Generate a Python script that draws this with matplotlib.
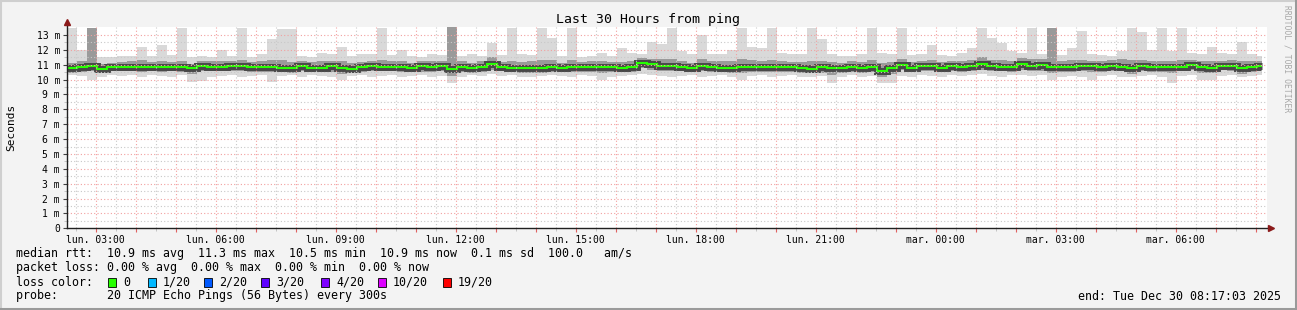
import numpy as np
import matplotlib.pyplot as plt
from matplotlib.lines import Line2D
from matplotlib.patches import Rectangle

plt.rcParams['font.family'] = ['DejaVu Sans Mono', 'DejaVu Sans']

# 15-minute bins, hours since Mon 02:17:03 (30 h window)
hours = np.arange(120) * 0.25
data_end = 29.875

# median rtt (ms)
med = [10.75, 10.83, 10.95, 10.72, 10.83, 10.85, 10.88, 10.88, 10.86, 10.82,
       10.86, 10.83, 10.78, 10.92, 10.85, 10.88, 10.94, 10.90, 10.83, 10.83,
       10.84, 10.80, 10.76, 10.90, 10.78, 10.80, 10.92, 10.76, 10.72, 10.83,
       10.95, 10.88, 10.87, 10.84, 10.78, 10.94, 10.84, 10.90, 10.72, 10.84,
       10.75, 10.88, 11.05, 10.85, 10.78, 10.77, 10.77, 10.77, 10.85, 10.80,
       10.84, 10.86, 10.82, 10.82, 10.84, 10.78, 10.88, 11.15, 11.02, 10.95,
       10.93, 10.87, 10.80, 10.92, 10.84, 10.80, 10.78, 10.82, 10.84, 10.84,
       10.86, 10.84, 10.82, 10.80, 10.74, 10.82, 10.76, 10.78, 10.84, 10.76,
       10.82, 10.55, 10.80, 10.97, 10.78, 10.90, 10.90, 10.80, 10.92, 10.84,
       10.95, 11.06, 10.90, 10.88, 10.85, 11.08, 10.92, 10.96, 10.88, 10.82,
       10.84, 10.95, 10.90, 10.84, 10.90, 10.88, 10.75, 10.90, 10.85, 10.83,
       10.84, 10.86, 10.98, 10.85, 10.80, 10.93, 10.95, 10.78, 10.84, 10.92]

# top of the smoke (slowest pings)
hi = [13.5, 12.0, 13.5, 11.5, 11.55, 11.6, 11.6, 12.2, 11.6, 12.3,
      11.65, 13.5, 11.55, 11.6, 11.5, 12.0, 11.6, 13.5, 11.55, 11.7,
      12.7, 13.4, 13.4, 11.6, 11.55, 11.8, 11.7, 12.2, 11.6, 11.7,
      11.75, 13.5, 11.65, 12.0, 11.6, 11.55, 11.7, 11.65, 13.5, 11.6,
      11.7, 11.6, 12.45, 11.65, 13.5, 11.7, 11.65, 13.5, 12.8, 11.6,
      13.5, 11.55, 11.6, 11.8, 11.6, 12.1, 11.8, 11.7, 12.55, 12.4,
      13.5, 11.9, 11.7, 13.0, 11.75, 11.7, 12.0, 13.5, 12.2, 12.1,
      13.5, 11.8, 11.7, 11.75, 13.5, 12.7, 11.7, 11.6, 11.6, 11.7,
      13.5, 11.8, 11.7, 13.5, 11.65, 11.7, 12.35, 11.65, 11.6, 11.8,
      12.1, 13.5, 12.8, 12.45, 11.9, 11.8, 13.5, 11.7, 13.5, 11.65,
      12.1, 13.3, 11.75, 11.65, 11.6, 11.9, 13.5, 13.2, 12.0, 13.5,
      11.9, 13.5, 11.8, 11.7, 12.2, 11.8, 11.7, 12.55, 11.75, 11.6]

# bottom of the smoke (fastest pings)
lo = [10.3, 10.25, 10.0, 10.2, 10.3, 10.25, 10.3, 10.15, 10.3, 10.25,
      10.2, 10.3, 9.85, 9.9, 10.2, 10.25, 10.3, 10.2, 10.25, 10.3,
      9.85, 10.25, 10.3, 10.2, 10.3, 10.25, 10.2, 10.0, 10.25, 10.3,
      10.15, 10.25, 10.3, 10.2, 10.25, 10.3, 10.2, 10.25, 9.8, 10.2,
      10.3, 10.25, 10.35, 10.25, 10.3, 10.2, 10.15, 10.25, 10.3, 10.25,
      10.2, 10.3, 10.25, 10.0, 10.2, 10.25, 10.3, 10.35, 10.3, 10.25,
      10.15, 10.25, 10.3, 10.2, 10.25, 10.3, 10.2, 10.0, 10.25, 10.3,
      10.2, 10.25, 10.3, 10.2, 10.15, 10.25, 9.8, 10.2, 10.3, 10.15,
      10.25, 9.75, 9.75, 10.25, 10.2, 10.3, 10.25, 10.2, 10.3, 10.25,
      10.3, 10.35, 10.25, 10.2, 10.3, 10.3, 10.25, 10.3, 10.0, 10.2,
      10.25, 10.2, 10.0, 10.25, 10.3, 10.2, 10.15, 10.25, 10.3, 10.2,
      9.8, 10.25, 10.3, 10.0, 10.0, 10.25, 10.3, 10.2, 10.25, 10.3]

# spread of the denser middle pings around the median
q_up = [0.35, 0.40, 2.55, 0.35, 0.30, 0.35, 0.40, 0.45, 0.35, 0.40,
        0.35, 0.45, 0.30, 0.35, 0.40, 0.35, 0.30, 0.45, 0.35, 0.40,
        0.45, 0.50, 0.40, 0.35, 0.40, 0.45, 0.35, 0.50, 0.40, 0.35,
        0.30, 0.45, 0.35, 0.40, 0.35, 0.30, 0.40, 0.35, 2.80, 0.40,
        0.40, 0.35, 0.45, 0.35, 0.50, 0.40, 0.45, 0.55, 0.45, 0.35,
        0.45, 0.35, 0.40, 0.45, 0.35, 0.40, 0.35, 0.30, 0.40, 0.45,
        0.45, 0.40, 0.35, 0.50, 0.40, 0.45, 0.50, 0.55, 0.45, 0.40,
        0.45, 0.40, 0.35, 0.40, 0.50, 0.45, 0.40, 0.35, 0.40, 0.45,
        0.50, 0.55, 0.40, 0.45, 0.40, 0.35, 0.45, 0.40, 0.35, 0.40,
        0.40, 0.45, 0.40, 0.45, 0.40, 0.35, 0.45, 0.40, 2.60, 0.45,
        0.45, 0.40, 0.35, 0.40, 0.45, 0.50, 0.55, 0.45, 0.40, 0.45,
        0.40, 0.45, 0.35, 0.40, 0.45, 0.35, 0.40, 0.45, 0.40, 0.35]
q_dn = [0.30, 0.30, 0.40, 0.30, 0.25, 0.30, 0.30, 0.35, 0.30, 0.30,
        0.30, 0.35, 0.40, 0.35, 0.30, 0.30, 0.35, 0.30, 0.30, 0.30,
        0.35, 0.30, 0.30, 0.35, 0.30, 0.30, 0.40, 0.35, 0.30, 0.30,
        0.35, 0.30, 0.30, 0.35, 0.30, 0.40, 0.30, 0.35, 0.45, 0.30,
        0.30, 0.35, 0.40, 0.30, 0.30, 0.35, 0.30, 0.35, 0.35, 0.30,
        0.30, 0.35, 0.30, 0.40, 0.30, 0.30, 0.35, 0.40, 0.35, 0.35,
        0.35, 0.30, 0.30, 0.35, 0.30, 0.30, 0.35, 0.40, 0.30, 0.30,
        0.35, 0.30, 0.30, 0.35, 0.30, 0.35, 0.45, 0.35, 0.30, 0.30,
        0.30, 0.40, 0.45, 0.35, 0.30, 0.35, 0.30, 0.30, 0.35, 0.30,
        0.35, 0.40, 0.30, 0.30, 0.35, 0.40, 0.35, 0.35, 0.45, 0.30,
        0.30, 0.35, 0.40, 0.30, 0.35, 0.30, 0.35, 0.30, 0.35, 0.30,
        0.40, 0.30, 0.35, 0.40, 0.35, 0.30, 0.35, 0.40, 0.30, 0.35]

first_hour = 0.7158  # lun. 03:00
tick_labels = ['lun. 03:00', 'lun. 06:00', 'lun. 09:00', 'lun. 12:00', 'lun. 15:00',
               'lun. 18:00', 'lun. 21:00', 'mar. 00:00', 'mar. 03:00', 'mar. 06:00']

loss_names = ['0', '1/20', '2/20', '3/20', '4/20', '10/20', '19/20']
loss_colors = ['#26ff00', '#00b8ff', '#0059ff', '#5e00ff', '#7e00ff', '#dd00ff', '#ff0000']

W, H = 1297, 310
fig = plt.figure(figsize=(W / 100, H / 100), dpi=100, facecolor='#f3f3f3')

x0, x1, ytop, ybot = 67, 1267, 27, 228.3
ax = fig.add_axes([x0 / W, 1 - ybot / H, (x1 - x0) / W, (ybot - ytop) / H])
ax.set_facecolor('white')
ax.set_xlim(0, 30)
ax.set_ylim(0, 13.54)

med = np.array(med)
lo = np.array(lo)
hi = np.array(hi)
edges = np.append(hours, data_end)

ax.stairs(hi, edges, baseline=lo, fill=True, color='#d9d9d9', zorder=1)
ax.stairs(np.minimum(med + np.array(q_up), 13.54), edges, baseline=med - np.array(q_dn),
          fill=True, color='#9a9a9a', zorder=2)
ax.stairs(med, edges, baseline=None, color='#484848', linewidth=5, zorder=3)
ax.stairs(med, edges, baseline=None, color='#26ff00', linewidth=1.5, zorder=4)

# grid
hour_ticks = first_hour + np.arange(30)
half_ticks = np.concatenate([[first_hour - 0.5], hour_ticks + 0.5])
half_ticks = half_ticks[(half_ticks > 0) & (half_ticks < 30)]
for h in half_ticks:
    ax.axvline(h, color='#c8c8c8', lw=0.8, ls=(0, (1, 2)), zorder=5)
for h in hour_ticks:
    ax.axvline(h, color='#f2a0a0', lw=0.8, ls=(0, (1, 2)), zorder=5)
for v in np.arange(0.5, 13.5, 1.0):
    ax.axhline(v, color='#c8c8c8', lw=0.8, ls=(0, (1, 2)), zorder=5)
for v in range(1, 14):
    ax.axhline(v, color='#f2a0a0', lw=0.8, ls=(0, (1, 2)), zorder=5)

for s in ax.spines.values():
    s.set_visible(False)

ax.set_xticks(hour_ticks)
ax.set_xticklabels([tick_labels[k // 3] if k % 3 == 0 else '' for k in range(30)])
ax.set_xticks(half_ticks, minor=True)
ax.tick_params(axis='x', which='major', length=3, color='#e06060', labelsize=7,
               pad=1.5, labelcolor='#000000')
ax.tick_params(axis='x', which='minor', length=2, color='#bbbbbb')
ax.set_yticks(range(14))
ax.set_yticklabels(['0'] + ['%d m' % v for v in range(1, 14)])
ax.set_yticks(np.arange(0.5, 13.5, 1.0), minor=True)
ax.tick_params(axis='y', which='major', length=3, color='#404040', labelsize=7, pad=2)
ax.tick_params(axis='y', which='minor', length=2, color='#bbbbbb')

# axes lines with arrows
fig.add_artist(Line2D([x0 / W, x0 / W], [1 - ybot / H, 1 - 22 / H], color='#202020', lw=1))
fig.add_artist(Line2D([x0 / W, 1270 / W], [1 - ybot / H, 1 - ybot / H], color='#202020', lw=1))
fig.add_artist(Line2D([x0 / W], [1 - 22 / H], marker='^', ms=4, color='#8b1a1a', lw=0))
fig.add_artist(Line2D([1271 / W], [1 - ybot / H], marker='>', ms=4, color='#8b1a1a', lw=0))

fig.text(648 / W, 1 - 19 / H, 'Last 30 Hours from ping', ha='center', va='center', fontsize=9.5)
fig.text(11 / W, 1 - 127 / H, 'Seconds', rotation=90, ha='center', va='center', fontsize=8)
fig.text(1287 / W, 1 - 59 / H, 'RRDTOOL / TOBI OETIKER', rotation=270, ha='center',
         va='center', fontsize=5.8, color='#a8a8a8')

fs = 8.4
fig.text(16 / W, 1 - 254 / H,
         'median rtt:  10.9 ms avg  11.3 ms max  10.5 ms min  10.9 ms now  0.1 ms sd  100.0   am/s',
         va='center', fontsize=fs)
fig.text(16 / W, 1 - 268 / H, 'packet loss: 0.00 % avg  0.00 % max  0.00 % min  0.00 % now',
         va='center', fontsize=fs)
fig.text(16 / W, 1 - 282 / H, 'loss color:', va='center', fontsize=fs)
box_x = [108, 148, 204, 261, 321, 378, 443]
for bx, name, col in zip(box_x, loss_names, loss_colors):
    fig.add_artist(Rectangle((bx / W, 1 - 286.5 / H), 8 / W, 9 / H, facecolor=col,
                             edgecolor='black', lw=0.6))
    fig.text((bx + 15) / W, 1 - 282 / H, name, va='center', fontsize=fs)
fig.text(16 / W, 1 - 296 / H, 'probe:       20 ICMP Echo Pings (56 Bytes) every 300s',
         va='center', fontsize=fs)
fig.text(1281 / W, 1 - 296 / H, 'end: Tue Dec 30 08:17:03 2025', ha='right', va='center',
         fontsize=fs)

# frame
fig.add_artist(Line2D([0, 1], [1 - 0.5 / H, 1 - 0.5 / H], color='#cfcfcf', lw=1.5))
fig.add_artist(Line2D([0.5 / W, 0.5 / W], [0, 1], color='#cfcfcf', lw=1.5))
fig.add_artist(Line2D([0, 1], [1.5 / H, 1.5 / H], color='#9a9a9a', lw=2.2))
fig.add_artist(Line2D([1 - 1.5 / W, 1 - 1.5 / W], [0, 1], color='#9a9a9a', lw=2.2))

fig.savefig('out.png', dpi=100, facecolor=fig.get_facecolor())
